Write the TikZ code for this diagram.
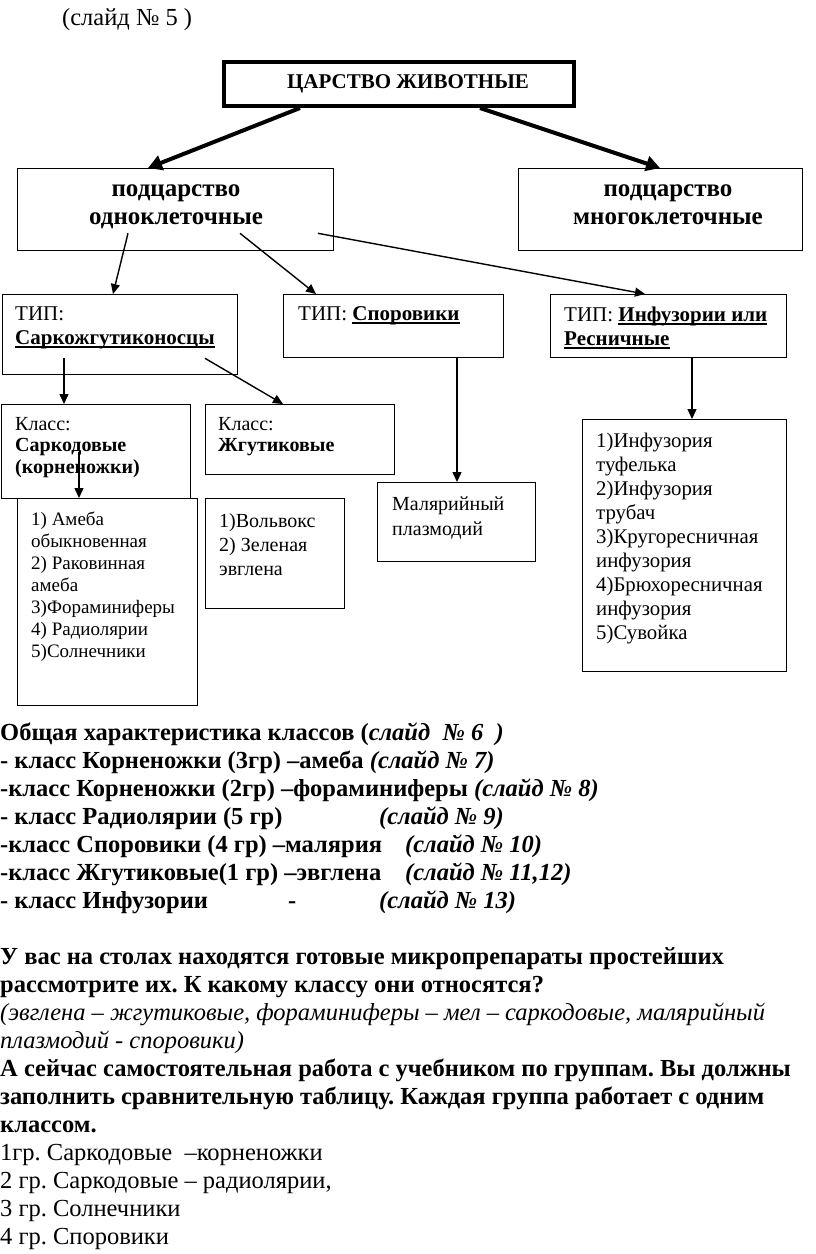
\documentclass[tikz,border=0pt]{standalone}
\usepackage{fontspec}
\setmainfont{Liberation Serif}[BoldFont={Liberation Serif Bold}, ItalicFont={Liberation Serif Italic}, BoldItalicFont={Liberation Serif Bold Italic}]
\usetikzlibrary{arrows.meta, calc}
\frenchspacing
\newcommand{\fsz}[2]{\fontsize{#1}{#2}\selectfont}
\newcommand{\undl}[1]{\setbox0\hbox{#1}\rlap{\raisebox{-3.5pt}{\rule{\wd0}{1.5pt}}}\box0}
\tikzset{
    boxnode/.style={draw, line width=1.3pt, anchor=north west, inner sep=0pt},
    boxtext/.style={anchor=base west, inner sep=0pt, align=left},
    midtext/.style={anchor=base, inner sep=0pt, align=center, font=\bfseries\fsz{25}{28}},
    bigarrow/.style={line width=4pt, -{Triangle[length=14pt, width=15pt]}},
    smallarrow/.style={line width=1.4pt, -{Triangle[length=10pt, width=9pt]}},
}
\begin{document}
\begin{tikzpicture}[x=1pt, y=-1pt]
    \useasboundingbox (0,0) rectangle (816,1254);
    \node[boxtext, font=\fsz{24.5}{26}] (slide) at (62,25) {(слайд № 5 )};
    % frames
    \node[boxnode, line width=4pt, minimum width=350, minimum height=44] (kingdom) at (222,60) {};
    \node[boxnode, minimum width=316, minimum height=82] (uni) at (17,168) {};
    \node[boxnode, minimum width=284, minimum height=82] (multi) at (518,168) {};
    \node[boxnode, minimum width=235, minimum height=80] (sarco) at (2,294) {};
    \node[boxnode, minimum width=220, minimum height=63] (spor) at (283,294) {};
    \node[boxnode, minimum width=236, minimum height=63] (cilia) at (550,294) {};
    \node[boxnode, minimum width=189, minimum height=94] (sarcod) at (1,404) {};
    \node[boxnode, minimum width=189, minimum height=70] (flag) at (205,404) {};
    \node[boxnode, minimum width=180, minimum height=207] (list1) at (17,498) {};
    \node[boxnode, minimum width=139, minimum height=110] (list2) at (205,498) {};
    \node[boxnode, minimum width=158, minimum height=79] (plasm) at (377,482) {};
    \node[boxnode, minimum width=204, minimum height=252] (list3) at (582,419) {};
    % texts (base = last line)
    \node[anchor=base, inner sep=0pt, font=\bfseries\fsz{21}{26}] (kingtxt) at (408,88) {ЦАРСТВО ЖИВОТНЫЕ};
    \node[midtext] (unitxt) at (176,224) {подцарство\\одноклеточные};
    \node[midtext] (multitxt) at (668,224) {подцарство\\многоклеточные};
    \node[boxtext, font=\fsz{21}{24}] (sarcotxt) at (15,344) {ТИП:\\\textbf{\undl{Саркожгутиконосцы}}};
    \node[boxtext, font=\fsz{21}{24}] (sportxt) at (298,320) {ТИП: \textbf{\undl{Споровики}}};
    \node[boxtext, font=\fsz{21}{24}] (ciliatxt) at (564,345) {ТИП: \textbf{\undl{Инфузории или}}\\\textbf{\undl{Ресничные}}};
    \node[boxtext, font=\fsz{20}{21.5}] (sarcodtxt) at (15,473) {Класс:\\\textbf{Саркодовые}\\\textbf{(корненожки)}};
    \node[boxtext, font=\fsz{20}{21.5}] (flagtxt) at (218,451.5) {Класс:\\\textbf{Жгутиковые}};
    \node[boxtext, font=\fsz{19}{22}] (list1txt) at (31,657) {1) Амеба\\обыкновенная\\2) Раковинная\\амеба\\3)Фораминиферы\\4) Радиолярии\\5)Солнечники};
    \node[boxtext, font=\fsz{20}{24}] (list2txt) at (219,575) {1)Вольвокс\\2) Зеленая\\эвглена};
    \node[boxtext, font=\fsz{20}{25}] (plasmtxt) at (392,535) {Малярийный\\плазмодий};
    \node[boxtext, font=\fsz{20.8}{24}] (list3txt) at (596,639) {1)Инфузория\\туфелька\\2)Инфузория\\трубач\\3)Кругоресничная\\инфузория\\4)Брюхоресничная\\инфузория\\5)Сувойка};
    % arrows
    \draw[bigarrow] ($(kingdom.south west)+(78,0)$) -- ($(uni.north west)+(131,0)$);
    \draw[bigarrow] ($(kingdom.south west)+(258,0)$) -- ($(multi.north west)+(142,0)$);
    \draw[smallarrow] ($(uni.south west)+(111,-18)$) -- ($(sarco.north west)+(111,0)$);
    \draw[smallarrow] ($(uni.south west)+(223,-18)$) -- ($(spor.north west)+(33,0)$);
    \draw[smallarrow] ($(uni.south west)+(301,-18)$) -- ($(cilia.north west)+(95,0)$);
    \coordinate (s1) at ($(sarco.south west)+(62,-17)$);
    \draw[smallarrow] (s1) -- (s1 |- sarcod.north);
    \draw[smallarrow] ($(sarco.south west)+(203,-17)$) -- ($(flag.north west)+(78,0)$);
    \coordinate (s2) at ($(sarcod.north west)+(78,48)$);
    \draw[smallarrow] (s2) -- (s2 |- list1.north);
    \coordinate (s3) at ($(spor.south west)+(174,0)$);
    \draw[smallarrow] (s3) -- (s3 |- plasm.north);
    \coordinate (s4) at ($(cilia.south west)+(142,0)$);
    \draw[smallarrow] (s4) -- (s4 |- list3.north);
    % notes below
    \node[boxtext, font=\fsz{24.5}{28}] (notes) at (0,1244) {%
        \textbf{Общая характеристика классов (\textit{слайд\ \ № 6\ \ )}}\\
        \textbf{- класс Корненожки (3гр) –амеба \textit{(слайд № 7)}}\\
        \textbf{-класс Корненожки (2гр) –фораминиферы \textit{(слайд № 8)}}\\
        \makebox[379pt][l]{\textbf{- класс Радиолярии (5 гр)}}\textbf{\textit{(слайд № 9)}}\\
        \makebox[405pt][l]{\textbf{-класс Споровики (4 гр) –малярия}}\textbf{\textit{(слайд № 10)}}\\
        \makebox[405pt][l]{\textbf{-класс Жгутиковые(1 гр) –эвглена}}\textbf{\textit{(слайд № 11,12)}}\\
        \makebox[288pt][l]{\textbf{- класс Инфузории}}\makebox[91pt][l]{\textbf{-}}\textbf{\textit{(слайд № 13)}}\\[28pt]
        \textbf{У вас на столах находятся готовые микропрепараты простейших}\\
        \textbf{рассмотрите их. К какому классу они относятся?}\\
        \textit{(эвглена – жгутиковые, фораминиферы – мел – саркодовые, малярийный}\\
        \textit{плазмодий - споровики)}\\
        \textbf{А сейчас самостоятельная работа с учебником по группам. Вы должны}\\
        \textbf{заполнить сравнительную таблицу. Каждая группа работает с одним}\\
        \textbf{классом.}\\
        1гр. Саркодовые\ \ –корненожки\\
        2 гр. Саркодовые – радиолярии,\\
        3 гр. Солнечники\\
        4 гр. Споровики};
\end{tikzpicture}
\end{document}
